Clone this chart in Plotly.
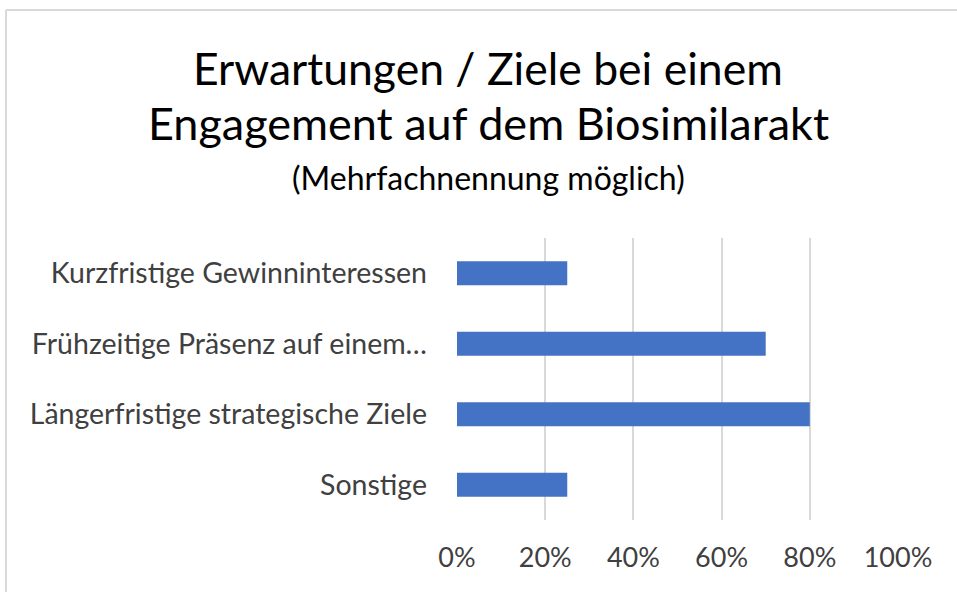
import plotly.graph_objects as go

categories = ["Kurzfristige Gewinninteressen",
              "Frühzeitige Präsenz auf einem…",
              "Längerfristige strategische Ziele",
              "Sonstige"]
values = [0.25, 0.70, 0.80, 0.25]
tick_vals = [0, 0.2, 0.4, 0.6, 0.8, 1.0]
tick_text = ["0%", "20%", "40%", "60%", "80%", "100%"]
title_lines = ["Erwartungen / Ziele bei einem",
               "Engagement auf dem Biosimilarakt",
               "(Mehrfachnennung möglich)"]

W, H = 957, 592
L, R, T, B = 457, 898, 238, 520

def px(x):
    return (x - L) / (R - L)

def py(y):
    return (B - y) / (B - T)

FONT = "Lato, Carlito, Calibri, sans-serif"

fig = go.Figure(go.Bar(
    x=values, y=categories, orientation="h",
    marker=dict(color="#4472C4", line=dict(width=0)),
    width=0.34,
))

fig.update_layout(
    width=W, height=H,
    margin=dict(l=L, r=W - R, t=T, b=H - B, pad=0),
    paper_bgcolor="white", plot_bgcolor="white",
    showlegend=False,
    font=dict(family=FONT, color="#404040"),
    xaxis=dict(range=[0, 1.0], tickvals=tick_vals, ticktext=tick_text,
               showgrid=True, gridcolor="#d9d9d9", gridwidth=1.5,
               zeroline=False, showline=False, ticks="",
               tickfont=dict(size=27, family=FONT, color="#404040"),
               ticklabelstandoff=19),
    yaxis=dict(categoryorder="array", categoryarray=categories[::-1],
               showgrid=False, zeroline=False, showline=False, ticks="",
               tickfont=dict(size=28.5, family=FONT, color="#404040"),
               ticklabelstandoff=29),
)

# chart border (top and left edges visible in the crop)
fig.add_shape(type="line", xref="paper", yref="paper",
              x0=px(6), x1=px(W + 20), y0=py(10), y1=py(10),
              line=dict(color="#d9d9d9", width=2), layer="below")
fig.add_shape(type="line", xref="paper", yref="paper",
              x0=px(6), x1=px(6), y0=py(10), y1=py(H + 20),
              line=dict(color="#d9d9d9", width=2), layer="below")

cx = px(488)
fig.add_annotation(text=title_lines[0], x=cx, y=py(67), xref="paper", yref="paper",
                   showarrow=False, xanchor="center", yanchor="middle",
                   font=dict(size=44.5, family=FONT, color="#000000"))
fig.add_annotation(text=title_lines[1], x=cx, y=py(123), xref="paper", yref="paper",
                   showarrow=False, xanchor="center", yanchor="middle",
                   font=dict(size=45, family=FONT, color="#000000"))
fig.add_annotation(text=title_lines[2], x=cx, y=py(178), xref="paper", yref="paper",
                   showarrow=False, xanchor="center", yanchor="middle",
                   font=dict(size=32, family=FONT, color="#000000"))

fig.write_html("out.html", config={"displayModeBar": False},
               post_script="document.body.style.margin='0';")
